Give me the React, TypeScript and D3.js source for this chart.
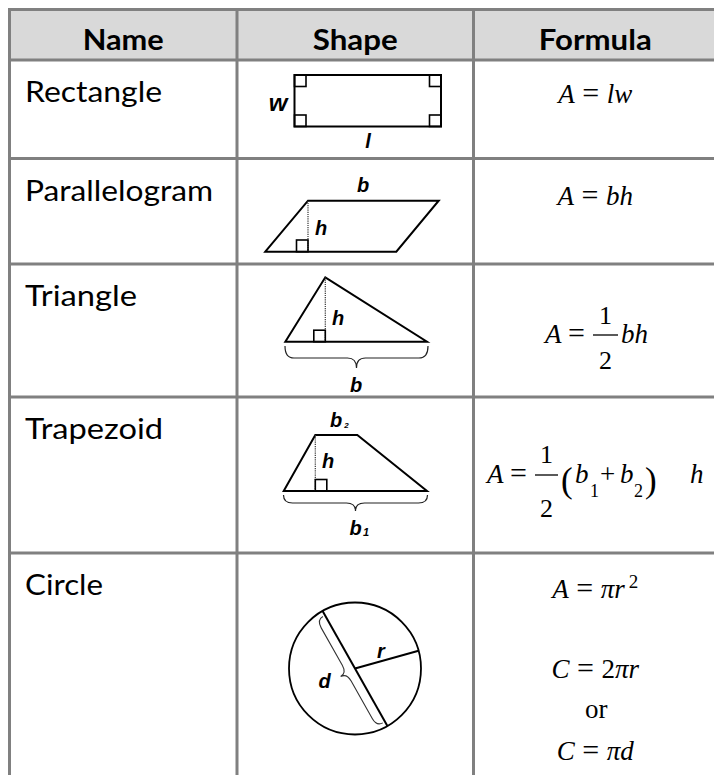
import React from 'react';
import * as d3 from 'd3';

// table content
const headers = ['Name', 'Shape', 'Formula'];
const shapeNames = ['Rectangle', 'Parallelogram', 'Triangle', 'Trapezoid', 'Circle'];

// dimension labels drawn on the figures
const rectangleLabels = ['w', 'l'];
const parallelogramLabels = ['b', 'h'];
const triangleLabels = ['h', 'b'];
const trapezoidLabels = ['b', '2', 'h', 'b', '1'];
const circleLabels = ['d', 'r'];

// formulas, as [text, italic?] tokens
type Tok = [string, boolean];
const rectangleFormula: Tok[] = [['A', true], [' = ', false], ['lw', true]];
const parallelogramFormula: Tok[] = [['A', true], [' = ', false], ['bh', true]];
const halfFraction = ['1', '2'];
const triangleTail: Tok[] = [['bh', true]];
const trapezoidBases = ['b', '1', '+', 'b', '2', 'h'];
const circleFormulas: Tok[][] = [
  [['A', true], [' = ', false], ['πr', true]],
  [['C', true], [' = ', false], ['2', false], ['πr', true]],
  [['or', false]],
  [['C', true], [' = ', false], ['πd', true]],
];
const circleSquare = '2';

const SERIF = '"Liberation Serif", "Times New Roman", serif';
const SANS = '"Liberation Sans", Arial, sans-serif';
const LATO = 'Lato, "Open Sans", sans-serif';

// rendered widths of the Lato texts
const headerWidths = [81, 85, 113];
const nameWidths = [137, 188, 112, 138, 78];

function bracePath(len: number, depth: number, arm: number) {
  const p = d3.path();
  const mid = len / 2;
  const r = Math.min(9, len / 8);
  p.moveTo(0, 0);
  p.quadraticCurveTo(0, arm, r, arm);
  p.lineTo(mid - r, arm);
  p.quadraticCurveTo(mid, arm, mid, depth);
  p.quadraticCurveTo(mid, arm, mid + r, arm);
  p.lineTo(len - r, arm);
  p.quadraticCurveTo(len, arm, len, 0);
  return p.toString();
}

function Formula({ toks, x, y, size = 27 }: { toks: Tok[]; x: number; y: number; size?: number }) {
  return (
    <text x={x} y={y} textAnchor="middle" fontFamily={SERIF} fontSize={size} style={{ whiteSpace: 'pre' }}>
      {toks.map(([t, it], i) => (
        <tspan key={i} fontStyle={it ? 'italic' : 'normal'} fontSize={t.trim() === '=' ? 30 : undefined}>{t}</tspan>
      ))}
    </text>
  );
}

function Label({ x, y, t, size = 20 }: { x: number; y: number; t: string; size?: number }) {
  return (
    <text x={x} y={y} textAnchor="middle" fontFamily={SANS} fontWeight="bold" fontStyle="italic" fontSize={size}>{t}</text>
  );
}

export default function App() {
  const W = 714;
  const H = 775;
  const colX = [9.5, 237, 473.5, 720];
  const rowY = [9.5, 60, 158.5, 264, 397, 553, 800];
  const grid = '#808080';
  const ink = '#000';
  const poly = d3.line<[number, number]>().curve(d3.curveLinearClosed);
  const seg = d3.line<[number, number]>();
  const fx = (colX[2] + colX[3]) / 2 - 1.5;

  // circle geometry
  const cx = 355, cy = 668.5, cr = 66;
  const dAng = (-119.4 * Math.PI) / 180;
  const rAng = (-15.6 * Math.PI) / 180;
  const u: [number, number] = [Math.cos(dAng), Math.sin(dAng)];
  const nrm: [number, number] = [u[1], -u[0]];
  const braceLen = 122;
  const braceStart: [number, number] = [cx + u[0] * braceLen / 2 + nrm[0] * 2.5, cy + u[1] * braceLen / 2 + nrm[1] * 2.5];
  const braceRot = (Math.atan2(-u[1], -u[0]) * 180) / Math.PI;

  return (
    <svg width={W} height={H} style={{ position: 'absolute', left: 0, top: 0, background: '#fff' }}>
      {/* header band */}
      <rect x={colX[0]} y={rowY[0]} width={colX[3] - colX[0]} height={rowY[1] - rowY[0]} fill="#d9d9d9" />

      {/* grid */}
      {rowY.slice(0, 6).map((y, i) => (
        <line key={'h' + i} x1={colX[0] - 1.5} x2={W + 10} y1={y} y2={y} stroke={grid} strokeWidth={3} />
      ))}
      {colX.map((x, i) => (
        <line key={'v' + i} x1={x} x2={x} y1={rowY[0] - 1.5} y2={H + 10} stroke={grid} strokeWidth={3} />
      ))}

      {headers.map((h, i) => (
        <text key={h} x={(colX[i] + colX[i + 1]) / 2 - (i === 2 ? 1.5 : 0)} y={50} textAnchor="middle"
          fontFamily={LATO} fontWeight="bold" fontSize={29}
          textLength={headerWidths[i]} lengthAdjust="spacingAndGlyphs">{h}</text>
      ))}

      {shapeNames.map((n, i) => (
        <text key={n} x={25} y={rowY[i + 1] + 42} fontFamily={LATO} fontSize={29}
          textLength={nameWidths[i]} lengthAdjust="spacingAndGlyphs">{n}</text>
      ))}

      {/* Rectangle */}
      <g stroke={ink} fill="none" strokeWidth={2}>
        <rect x={294.5} y={75} width={146.5} height={51.5} />
        <rect x={294.5} y={75} width={11.5} height={11.5} strokeWidth={1.6} />
        <rect x={429.5} y={75} width={11.5} height={11.5} strokeWidth={1.6} />
        <rect x={294.5} y={115} width={11.5} height={11.5} strokeWidth={1.6} />
        <rect x={429.5} y={115} width={11.5} height={11.5} strokeWidth={1.6} />
      </g>
      <Label x={278} y={111} t={rectangleLabels[0]} size={24} />
      <Label x={368} y={148} t={rectangleLabels[1]} />

      {/* Parallelogram */}
      <path d={poly([[265.3, 251.7], [308, 200.7], [438.7, 200.7], [396.3, 251.7]]) || ''} fill="none" stroke={ink} strokeWidth={2} />
      <path d={seg([[308, 200.7], [308, 251.7]]) || ''} stroke="#333" strokeWidth={1.2} strokeDasharray="1.2 1" />
      <rect x={296.5} y={240} width={11.5} height={11.7} fill="none" stroke={ink} strokeWidth={1.6} />
      <Label x={363} y={192} t={parallelogramLabels[0]} />
      <Label x={321} y={235} t={parallelogramLabels[1]} />

      {/* Triangle */}
      <path d={poly([[285.3, 341.7], [325.3, 277.3], [427, 341.7]]) || ''} fill="none" stroke={ink} strokeWidth={2} />
      <path d={seg([[325.3, 277.3], [325.3, 341.7]]) || ''} stroke="#333" strokeWidth={1.2} strokeDasharray="1.2 1" />
      <rect x={313.8} y={330.2} width={11.5} height={11.5} fill="none" stroke={ink} strokeWidth={1.6} />
      <Label x={338} y={325} t={triangleLabels[0]} />
      <path d={bracePath(143, 22, 12)} transform="translate(285,346)" fill="none" stroke="#222" strokeWidth={1.2} />
      <Label x={356} y={392} t={triangleLabels[1]} />

      {/* Trapezoid */}
      <path d={poly([[283.7, 491], [315.3, 435], [357.3, 435], [427, 491]]) || ''} fill="none" stroke={ink} strokeWidth={2} />
      <path d={seg([[315.3, 435], [315.3, 491]]) || ''} stroke="#333" strokeWidth={1.2} strokeDasharray="1.2 1" />
      <rect x={315.3} y={479.5} width={11.5} height={11.5} fill="none" stroke={ink} strokeWidth={1.6} />
      <Label x={336} y={427} t={trapezoidLabels[0]} />
      <Label x={346.5} y={428} t={trapezoidLabels[1]} size={8} />
      <Label x={328} y={468} t={trapezoidLabels[2]} />
      <path d={bracePath(144, 16, 8)} transform="translate(283.5,495)" fill="none" stroke="#222" strokeWidth={1.2} />
      <Label x={355.5} y={535} t={trapezoidLabels[3]} />
      <Label x={366} y={536} t={trapezoidLabels[4]} size={11} />

      {/* Circle */}
      <circle cx={cx} cy={cy} r={cr} fill="none" stroke={ink} strokeWidth={1.8} />
      <path d={seg([[cx + u[0] * cr, cy + u[1] * cr], [cx - u[0] * cr, cy - u[1] * cr]]) || ''} stroke={ink} strokeWidth={2} />
      <path d={seg([[cx, cy], [cx + Math.cos(rAng) * cr, cy + Math.sin(rAng) * cr]]) || ''} stroke={ink} strokeWidth={2} />
      <path d={bracePath(braceLen, 14, 7)} transform={`translate(${braceStart[0]},${braceStart[1]}) rotate(${braceRot})`}
        fill="none" stroke="#333" strokeWidth={1.1} />
      <Label x={324.5} y={688} t={circleLabels[0]} />
      <Label x={381} y={658} t={circleLabels[1]} />

      {/* Formulas */}
      <Formula toks={rectangleFormula} x={fx} y={103} />
      <Formula toks={parallelogramFormula} x={fx} y={205} />

      <g fontFamily={SERIF} fontSize={27}>
        <text x={545} y={343} fontStyle="italic">A</text>
        <text x={568} y={343} fontSize={30}>=</text>
        <line x1={593} x2={618} y1={335} y2={335} stroke={ink} strokeWidth={1.3} />
        <text x={605.5} y={324} textAnchor="middle" fontSize={26}>{halfFraction[0]}</text>
        <text x={605.5} y={369} textAnchor="middle" fontSize={26}>{halfFraction[1]}</text>
        <text x={621} y={343} fontStyle="italic">{triangleTail[0][0]}</text>
      </g>

      <g fontFamily={SERIF} fontSize={27}>
        <text x={487} y={483} fontStyle="italic">A</text>
        <text x={510} y={483} fontSize={30}>=</text>
        <line x1={535} x2={558} y1={475} y2={475} stroke={ink} strokeWidth={1.3} />
        <text x={546.5} y={463} textAnchor="middle" fontSize={26}>{halfFraction[0]}</text>
        <text x={546.5} y={517} textAnchor="middle" fontSize={26}>{halfFraction[1]}</text>
        <text x={561} y={492} fontSize={35}>(</text>
        <text x={575} y={483} fontStyle="italic">{trapezoidBases[0]}</text>
        <text x={590} y={497} fontSize={18}>{trapezoidBases[1]}</text>
        <text x={600} y={483}>{trapezoidBases[2]}</text>
        <text x={620} y={483} fontStyle="italic">{trapezoidBases[3]}</text>
        <text x={634} y={497} fontSize={18}>{trapezoidBases[4]}</text>
        <text x={645} y={492} fontSize={35}>)</text>
        <text x={690} y={483} fontStyle="italic">{trapezoidBases[5]}</text>
      </g>

      <text x={fx} y={598} textAnchor="middle" fontFamily={SERIF} fontSize={27} style={{ whiteSpace: 'pre' }}>
        {circleFormulas[0].map(([t, it], i) => (
          <tspan key={i} fontStyle={it ? 'italic' : 'normal'} fontSize={t.trim() === '=' ? 30 : undefined}>{t}</tspan>
        ))}
        <tspan dx={4} dy={-10} fontSize={19}>{circleSquare}</tspan>
      </text>
      <Formula toks={circleFormulas[1]} x={fx} y={678} />
      <Formula toks={circleFormulas[2]} x={fx + 1} y={718} />
      <Formula toks={circleFormulas[3]} x={fx} y={760} />
    </svg>
  );
}
